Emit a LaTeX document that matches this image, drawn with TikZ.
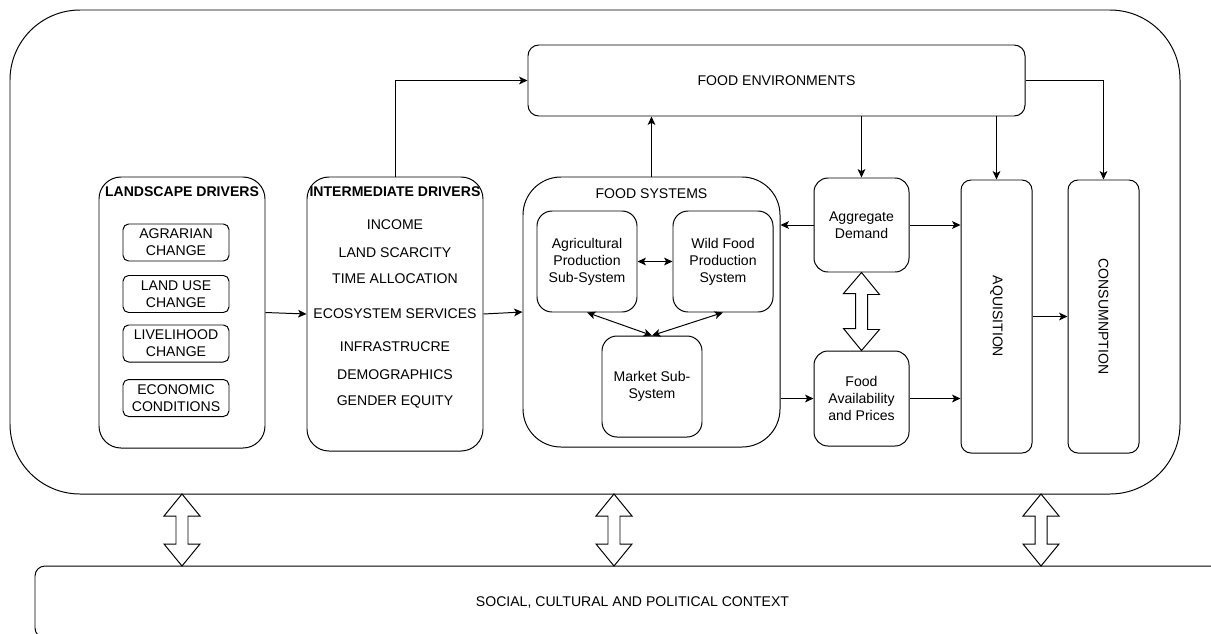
\documentclass[tikz,border=0pt]{standalone}
\usepackage{fontspec}
\setmainfont{Liberation Sans}
\usetikzlibrary{arrows.meta}
\tikzset{
  box/.style={draw, line width=0.7pt, rounded corners=#1, align=center, inner sep=0pt},
  box/.default=0.1cm,
  boxsize/.style 2 args={minimum width=#1*0.025cm, minimum height=#2*0.025cm},
  arr/.style={line width=0.7pt, -{Stealth[length=6pt,width=5.5pt,inset=1.5pt]}},
  darr/.style={line width=0.7pt, {Stealth[length=6pt,width=5.5pt,inset=1.5pt]}-{Stealth[length=6pt,width=5.5pt,inset=1.5pt]}},
  fatarrow/.style={draw, line width=0.7pt, fill=white},
  boxtitle/.style={font=\fontsize{10}{12}\selectfont\bfseries}
}
\begin{document}
\begin{tikzpicture}[x=0.025cm, y=-0.025cm, every node/.style={font=\fontsize{10}{12}\selectfont}]
    \useasboundingbox (0,0) rectangle (1211,633);
    \clip (0,0) rectangle (1211,633);
    \node [box=1.75cm, boxsize={1170}{484}] (outer) at (595,252) {};
    \node [box=0.25cm, boxsize={1195}{72}] (context) at (632.5,602) {SOCIAL, CULTURAL AND POLITICAL CONTEXT};
    \node [box=0.27cm, boxsize={497}{71}] (fenv) at (776.5,80.5) {FOOD ENVIRONMENTS};
    % drivers
    \node [box=0.55cm, boxsize={166}{271}] (land) at (182,312.5) {};
    \node [boxtitle] (landtitle) at (182,192) {LANDSCAPE DRIVERS};
    \foreach \nm/\txt/\yy in {agrarian/AGRARIAN\\CHANGE/242.5, landuse/LAND USE\\CHANGE/294,
        livelihood/LIVELIHOOD\\CHANGE/343.5, economic/ECONOMIC\\CONDITIONS/398}
      \node [box=0.14cm, boxsize={106}{37}] (\nm) at (176,\yy) {\txt};
    \node [box=0.55cm, boxsize={176}{274}] (inter) at (395,314) {};
    \node [boxtitle] (intertitle) at (395,192) {INTERMEDIATE DRIVERS};
    \foreach \txt/\yy [count=\i] in {INCOME/225, LAND SCARCITY/253, TIME ALLOCATION/279,
        ECOSYSTEM SERVICES/314, INFRASTRUCRE/347, DEMOGRAPHICS/375, GENDER EQUITY/402}
      \node (driver\i) at (395,\yy) {\txt};
    % food systems
    \node [box=0.95cm, boxsize={257}{270}] (fsys) at (651.5,312) {};
    \node (fsystitle) at (651.5,194) {FOOD SYSTEMS};
    \node [box=0.375cm, boxsize={100}{101}] (agri) at (587,261.5) {Agricultural\\Production\\Sub-System};
    \node [box=0.375cm, boxsize={100}{101}] (wild) at (723,261.5) {Wild Food\\Production\\System};
    \node [box=0.375cm, boxsize={100}{101}] (market) at (652,386.5) {Market Sub-\\System};
    \node [box=0.35cm, boxsize={95}{94}] (aggd) at (861.5,225) {Aggregate\\Demand};
    \node [box=0.35cm, boxsize={95}{95}] (favail) at (861.5,398.5) {Food\\Availability\\and Prices};
    \node [box=0.25cm, boxsize={71}{273}, label={[rotate=-90]center:AQUISITION}] (aquis) at (996.5,316.5) {};
    \node [box=0.25cm, boxsize={71}{273}, label={[rotate=-90]center:CONSUMNPTION}] (cons) at (1103.5,316.5) {};
    % connectors
    \draw [arr] (land.east) -- (inter.west);
    \draw [arr] (inter.east) -- (fsys.west);
    \draw [arr] (inter.north) |- (fenv.west);
    \draw [arr] (fsys.north) -- (fsys.north |- fenv.south);
    \draw [arr] (fenv.south -| aggd.north) -- (aggd.north);
    \draw [arr] (fenv.south -| aquis.north) -- (aquis.north);
    \draw [arr] (fenv.east) -| (cons.north);
    \draw [arr] (aggd.west) -- (aggd.west -| fsys.east);
    \draw [arr] (favail.west -| fsys.east) -- (favail.west);
    \draw [arr] (aggd.east) -- (aggd.east -| aquis.west);
    \draw [arr] (favail.east) -- (favail.east -| aquis.west);
    \draw [arr] (aquis.east) -- (cons.west);
    \draw [darr] (agri.east) -- (wild.west);
    \draw [darr] (agri.south) -- (market.north);
    \draw [darr] (wild.south) -- (market.north);
    \draw [fatarrow] (aggd.south) -- ++(18,22) -- ++(-12,0) -- ++(0,35) -- ++(12,0) -- (favail.north)
      -- ++(-18,-22) -- ++(12,0) -- ++(0,-35) -- ++(-12,0) -- cycle;
    \foreach \xx in {182,614,1041}
      \draw [fatarrow] (\xx,494) -- ++(18,22) -- ++(-12,0) -- ++(0,28) -- ++(12,0) -- (\xx,566)
        -- ++(-18,-22) -- ++(12,0) -- ++(0,-28) -- ++(-12,0) -- cycle;
\end{tikzpicture}
\end{document}
